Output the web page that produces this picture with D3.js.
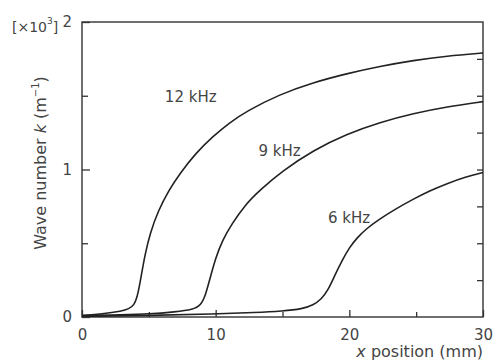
<!DOCTYPE html>
<html>
<head>
<meta charset="utf-8">
<script src="https://cdn.jsdelivr.net/npm/d3@7"></script>
<style>
  body { margin: 0; background: #fff; }
  text { font-family: "DejaVu Sans", sans-serif; fill: #444; }
</style>
</head>
<body>
<div id="viz"></div>
<script>
// curve data, k in units of 10^3 m^-1
var curve12 = [[0,0.01],[1.5,0.02],[3,0.04],[3.5,0.055],[3.9,0.08],[4.15,0.14],[4.4,0.26],[4.7,0.42],[5.1,0.57],
  [5.7,0.72],[6.5,0.86],[7.3,0.97],[8.5,1.11],[9.8,1.225],[11,1.315],[12.3,1.395],[14.8,1.51],[17.3,1.59],
  [19.8,1.65],[22.3,1.70],[24.8,1.74],[27.3,1.77],[30,1.79]];
var curve9 = [[0,0.01],[3,0.015],[5,0.02],[7,0.035],[8.3,0.05],[8.9,0.08],[9.25,0.15],[9.6,0.27],[10.0,0.40],
  [10.5,0.52],[11.2,0.63],[12.2,0.76],[13.3,0.86],[15,0.99],[17.3,1.13],[19.8,1.24],[22.3,1.32],[24.8,1.38],
  [27.3,1.425],[30,1.46]];
var curve6 = [[0,0.005],[5,0.01],[10,0.02],[13,0.03],[15,0.04],[16.5,0.055],[17.3,0.08],[17.9,0.12],[18.4,0.18],
  [18.9,0.28],[19.5,0.39],[20.0,0.47],[20.6,0.54],[21.3,0.60],[22.2,0.66],[23.4,0.73],[24.8,0.80],[26,0.855],
  [27.3,0.905],[28.7,0.95],[30,0.98]];
var series = [
  {name: "12 kHz", values: curve12, lx: 6.2, ly: 1.46},
  {name: "9 kHz", values: curve9, lx: 13.2, ly: 1.09},
  {name: "6 kHz", values: curve6, lx: 18.4, ly: 0.64}
];
var xTicks = [0, 10, 20, 30];
var xMinor = [5, 15, 25];
var yTicks = [0, 1, 2];
var yMinorLeft = [0.5, 1.5];
var yMinorRight = [0.25, 0.5, 0.75, 1, 1.25, 1.5, 1.75];

var margin = {top: 22, right: 17, bottom: 46, left: 82},
    width = 500 - margin.left - margin.right,
    height = 363 - margin.top - margin.bottom;

var svg = d3.select("#viz")
  .append("svg")
    .attr("width", 500)
    .attr("height", 363)
  .append("g")
    .attr("transform", "translate(" + margin.left + "," + margin.top + ")");

var x = d3.scaleLinear().domain([0, 30]).range([0, width]);
var y = d3.scaleLinear().domain([0, 2]).range([height, 0]);

// frame
svg.append("rect")
  .attr("x", 0).attr("y", 0)
  .attr("width", width).attr("height", height)
  .attr("fill", "none")
  .attr("stroke", "#333")
  .attr("stroke-width", 1.4);

function styleTicks(g) {
  g.select(".domain").remove();
  g.selectAll("line").attr("stroke", "#333").attr("stroke-width", 1.3);
}

// bottom axis, ticks inward
var xAxis = svg.append("g")
  .attr("transform", "translate(0," + height + ")")
  .call(d3.axisBottom(x).tickValues(xTicks).tickSize(-7).tickPadding(12).tickFormat(d3.format("d")))
  .call(styleTicks);
xAxis.selectAll("text").attr("font-size", 15).attr("fill", "#444");
svg.append("g")
  .attr("transform", "translate(0," + height + ")")
  .call(d3.axisBottom(x).tickValues(xMinor).tickSize(-5).tickFormat(""))
  .call(styleTicks);

// left axis
var yAxis = svg.append("g")
  .call(d3.axisLeft(y).tickValues(yTicks).tickSize(-8).tickPadding(10).tickFormat(d3.format("d")))
  .call(styleTicks);
yAxis.selectAll("text").attr("font-size", 15).attr("fill", "#444");
svg.append("g")
  .call(d3.axisLeft(y).tickValues(yMinorLeft).tickSize(-6).tickFormat(""))
  .call(styleTicks);

// right axis minor ticks
svg.append("g")
  .attr("transform", "translate(" + width + ",0)")
  .call(d3.axisRight(y).tickValues(yMinorRight).tickSize(-6).tickFormat(""))
  .call(styleTicks);

// curves
var line = d3.line()
  .x(function(d) { return x(d[0]); })
  .y(function(d) { return y(d[1]); })
  .curve(d3.curveBasis);

svg.selectAll(".curve")
  .data(series)
  .enter().append("path")
    .attr("class", "curve")
    .attr("d", function(d) { return line(d.values); })
    .attr("fill", "none")
    .attr("stroke", "#222")
    .attr("stroke-width", 1.6);

svg.selectAll(".lbl")
  .data(series)
  .enter().append("text")
    .attr("class", "lbl")
    .attr("x", function(d) { return x(d.lx); })
    .attr("y", function(d) { return y(d.ly); })
    .attr("font-size", 15)
    .text(function(d) { return d.name; });

// exponent note
var note = svg.append("text")
  .attr("x", -70).attr("y", 10)
  .attr("font-size", 14);
note.append("tspan").text("[×10");
note.append("tspan").attr("font-size", 9).attr("dy", -8).text("3");
note.append("tspan").attr("dy", 8).text("]");

// x label
var xl = svg.append("text")
  .attr("x", width).attr("y", height + 40)
  .attr("text-anchor", "end")
  .attr("font-size", 16);
xl.append("tspan").attr("font-style", "italic").text("x");
xl.append("tspan").text(" position (mm)");

// y label
var yl = svg.append("text")
  .attr("transform", "translate(-36,141) rotate(-90)")
  .attr("text-anchor", "middle")
  .attr("font-size", 16);
yl.append("tspan").text("Wave number ");
yl.append("tspan").attr("font-style", "italic").text("k");
yl.append("tspan").text("   (m");
yl.append("tspan").attr("font-size", 10).attr("dy", -7).text("−1");
yl.append("tspan").attr("dy", 7).text(")");
</script>
</body>
</html>
